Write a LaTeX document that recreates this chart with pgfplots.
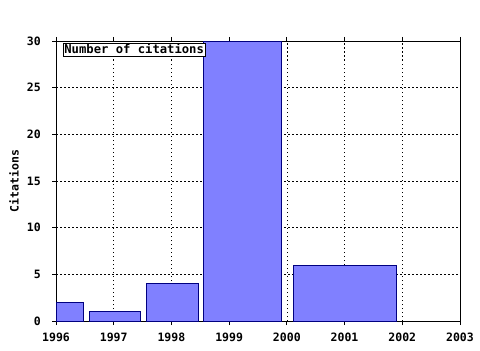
\documentclass[border=0pt]{standalone}
\usepackage{pgfplots}
\pgfplotsset{compat=1.18}
\usepackage{fontspec}
\setmainfont{DejaVu Sans Mono}
\definecolor{barfill}{RGB}{128,128,255}
\definecolor{baredge}{RGB}{0,0,128}
\begin{document}
\begin{tikzpicture}[x=1bp,y=1bp]
\path[use as bounding box] (0,0) rectangle (480,350);
\begin{axis}[
  at={(56bp,29bp)}, anchor=south west,
  scale only axis, width=404bp, height=280bp,
  xmin=1996, xmax=2003, ymin=0, ymax=30,
  xtick={1996,1997,...,2003}, ytick={0,5,...,30},
  minor x tick num=4,
  xticklabel style={/pgf/number format/1000 sep=, anchor=north, inner sep=0pt,
     text height=8.2bp, text depth=0pt, yshift=-7.7bp},
  yticklabel style={anchor=east, inner sep=0pt, xshift=-11bp},
  /pgf/number format/assume math mode=true,
  tick label style={font=\fontsize{11.5bp}{13bp}\selectfont\bfseries},
  label style={font=\fontsize{11.5bp}{13bp}\selectfont\bfseries},
  ytick pos=left,
  tick align=outside,
  major tick length=4bp,
  minor tick length=2bp,
  grid=major,
  major grid style={black, dash pattern=on 1.5bp off 2.5bp, line width=0.6bp},
  axis line style={line width=0.8bp},
  every tick/.style={black, line width=0.8bp},
  ylabel={Citations},
  ylabel style={at={(axis description cs:-0.104,0.5)}, anchor=center},
]
\addplot[fill=barfill, draw=baredge, line width=0.8bp] coordinates {(1996,0) (1996,2) (1996.47,2) (1996.47,0)} -- cycle;
\addplot[fill=barfill, draw=baredge, line width=0.8bp] coordinates {(1996.58,0) (1996.58,1) (1997.47,1) (1997.47,0)} -- cycle;
\addplot[fill=barfill, draw=baredge, line width=0.8bp] coordinates {(1997.56,0) (1997.56,4) (1998.47,4) (1998.47,0)} -- cycle;
\addplot[fill=barfill, draw=baredge, line width=0.8bp] coordinates {(1998.55,0) (1998.55,30) (1999.91,30) (1999.91,0)} -- cycle;
\addplot[fill=barfill, draw=baredge, line width=0.8bp] coordinates {(2000.11,0) (2000.11,6) (2001.90,6) (2001.90,0)} -- cycle;
\node[draw=black, fill=white, anchor=north west, inner xsep=1bp, inner ysep=1.2bp, line width=0.8bp,
  font=\fontsize{12.2bp}{13bp}\selectfont\bfseries, text height=9bp, text depth=1.5bp]
  at (rel axis cs:0.0173,0.993) {Number of citations};
\end{axis}
\end{tikzpicture}
\end{document}
